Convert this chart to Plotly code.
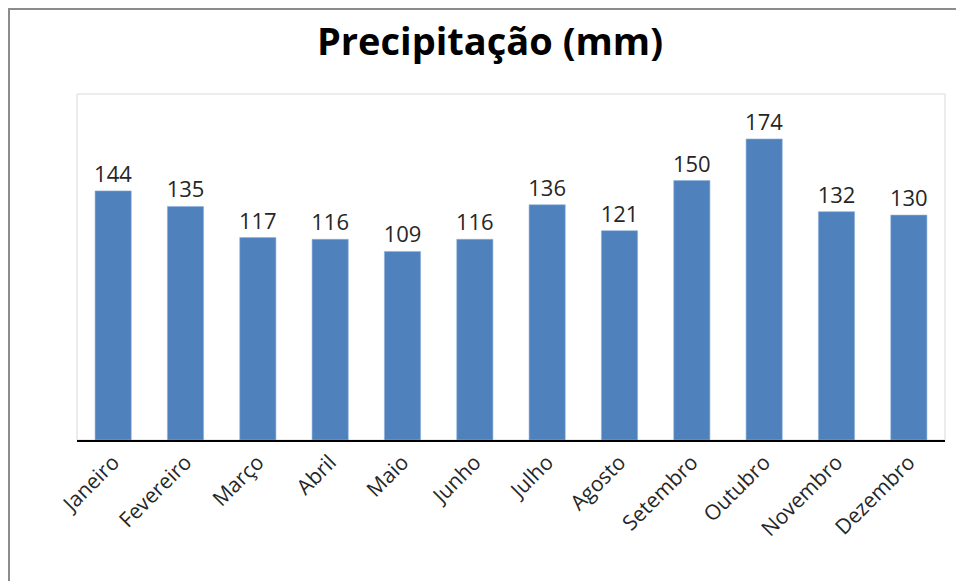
import plotly.graph_objects as go

meses = ["Janeiro", "Fevereiro", "Março", "Abril", "Maio", "Junho",
         "Julho", "Agosto", "Setembro", "Outubro", "Novembro", "Dezembro"]
precip = [144, 135, 117, 116, 109, 116, 136, 121, 150, 174, 132, 130]

W, H = 956, 581
ml, mr, mt, mb = 77, 11, 94, 141
pw, ph = W - ml - mr, H - mt - mb
FONT = "Open Sans, Liberation Sans, sans-serif"

fig = go.Figure(go.Bar(
    x=meses, y=precip,
    marker=dict(color="#4F81BD", line=dict(color="#8DB0DA", width=0.6)),
    text=[str(v) for v in precip], textposition="outside", cliponaxis=False,
    constraintext="none",
    textfont=dict(family=FONT, size=22, color="#262626"),
))

# outer chart border (pixel -> paper)
x0 = (9 - ml) / pw
y1 = 1 + (mt - 9) / ph
fig.add_shape(type="rect", xref="paper", yref="paper", x0=x0, x1=1 + (mr + 20) / pw,
              y0=-(mb + 20) / ph, y1=y1, line=dict(color="#8C8C8C", width=2), layer="below")
# plot area border
fig.add_shape(type="rect", xref="paper", yref="paper", x0=0, x1=1, y0=0, y1=1,
              line=dict(color="#D9D9D9", width=1), layer="below")

fig.update_layout(
    width=W, height=H, margin=dict(l=ml, r=mr, t=mt, b=mb),
    paper_bgcolor="white", plot_bgcolor="white",
    title=dict(text="<b>Precipitação (mm)</b>", x=490 / W, xanchor="center",
               y=1 - 42 / H, yanchor="middle",
               font=dict(family=FONT, size=38, color="black")),
    bargap=0.5, showlegend=False,
    xaxis=dict(showline=True, linecolor="black", linewidth=1.5, tickangle=-45,
               tickfont=dict(family=FONT, size=21, color="#262626"),
               ticks="", showgrid=False),
    yaxis=dict(range=[0, 200], visible=False, showgrid=False),
)

fig.write_html("out.html")
